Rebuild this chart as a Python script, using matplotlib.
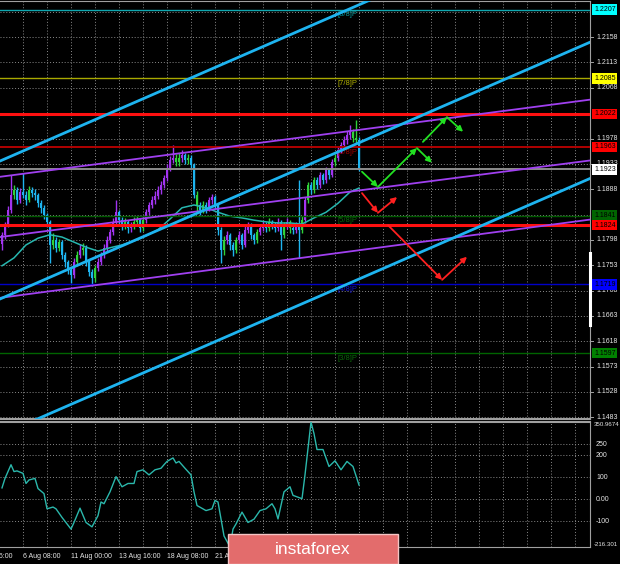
import matplotlib
matplotlib.use("Agg")
import matplotlib.pyplot as plt
from matplotlib.transforms import blended_transform_factory

# EURUSD H4 candles (index 0 = left edge, 119 = last bar)
first_open = 1.1790
closes = [
    1.1807, 1.1824, 1.1851, 1.1878, 1.1887, 1.1869, 1.1883, 1.1878, 1.1869, 1.1887,
    1.1881, 1.1878, 1.1863, 1.1855, 1.1842, 1.1830, 1.1789, 1.1798, 1.1784, 1.1794,
    1.1771, 1.1759, 1.1744, 1.1736, 1.1759, 1.1771, 1.1780, 1.1784, 1.1759, 1.1741,
    1.1730, 1.1748, 1.1759, 1.1771, 1.1784, 1.1798, 1.1812, 1.1830, 1.1847, 1.1833,
    1.1824, 1.1830, 1.1819, 1.1824, 1.1830, 1.1833, 1.1819, 1.1833, 1.1847, 1.1860,
    1.1869, 1.1876, 1.1887, 1.1895, 1.1908, 1.1926, 1.1940, 1.1943, 1.1936, 1.1943,
    1.1949, 1.1940, 1.1943, 1.1931, 1.1878, 1.1860, 1.1851, 1.1860, 1.1855, 1.1869,
    1.1874, 1.1860, 1.1816, 1.1780, 1.1798, 1.1807, 1.1789, 1.1780, 1.1798, 1.1807,
    1.1789, 1.1816, 1.1824, 1.1807, 1.1798, 1.1812, 1.1819, 1.1824, 1.1819, 1.1830,
    1.1824, 1.1819, 1.1830, 1.1807, 1.1824, 1.1830, 1.1819, 1.1816, 1.1824, 1.1816,
    1.1833, 1.1869, 1.1895, 1.1887, 1.1904, 1.1895, 1.1913, 1.1904, 1.1922, 1.1913,
    1.1936, 1.1943, 1.1958, 1.1966, 1.1975, 1.1984, 1.1990, 1.1979, 1.1975, 1.1922,
]
highs = [
    1.1812, 1.1830, 1.1858, 1.1913, 1.1895, 1.1892, 1.1890, 1.1917, 1.1885, 1.1893,
    1.1892, 1.1888, 1.1882, 1.1868, 1.1860, 1.1846, 1.1833, 1.1810, 1.1803, 1.1800,
    1.1797, 1.1776, 1.1763, 1.1750, 1.1765, 1.1778, 1.1790, 1.1793, 1.1788, 1.1763,
    1.1746, 1.1753, 1.1765, 1.1777, 1.1790, 1.1804, 1.1818, 1.1836, 1.1869, 1.1851,
    1.1838, 1.1836, 1.1834, 1.1830, 1.1838, 1.1840, 1.1837, 1.1839, 1.1853, 1.1866,
    1.1876, 1.1884, 1.1893, 1.1902, 1.1914, 1.1932, 1.1947, 1.1966, 1.1950, 1.1952,
    1.1957, 1.1953, 1.1950, 1.1948, 1.1934, 1.1884, 1.1866, 1.1867, 1.1865, 1.1874,
    1.1880, 1.1878, 1.1864, 1.1820, 1.1805, 1.1814, 1.1811, 1.1795, 1.1803, 1.1813,
    1.1811, 1.1822, 1.1830, 1.1828, 1.1811, 1.1818, 1.1826, 1.1831, 1.1830, 1.1837,
    1.1834, 1.1829, 1.1836, 1.1833, 1.1829, 1.1836, 1.1834, 1.1825, 1.1830, 1.1904,
    1.1840, 1.1874, 1.1900, 1.1901, 1.1910, 1.1909, 1.1918, 1.1917, 1.1928, 1.1926,
    1.1941, 1.1950, 1.1963, 1.1972, 1.1982, 1.1992, 1.2002, 1.1995, 1.2011, 1.1980,
]
lows = [
    1.1780, 1.1800, 1.1820, 1.1846, 1.1870, 1.1862, 1.1864, 1.1872, 1.1860, 1.1865,
    1.1874, 1.1868, 1.1857, 1.1846, 1.1835, 1.1820, 1.1757, 1.1782, 1.1776, 1.1778,
    1.1764, 1.1750, 1.1738, 1.1721, 1.1730, 1.1752, 1.1765, 1.1772, 1.1752, 1.1733,
    1.1716, 1.1724, 1.1742, 1.1753, 1.1766, 1.1778, 1.1792, 1.1806, 1.1824, 1.1826,
    1.1815, 1.1817, 1.1810, 1.1812, 1.1818, 1.1822, 1.1812, 1.1814, 1.1828, 1.1842,
    1.1854, 1.1862, 1.1870, 1.1880, 1.1890, 1.1903, 1.1920, 1.1934, 1.1929, 1.1930,
    1.1936, 1.1933, 1.1932, 1.1924, 1.1872, 1.1850, 1.1842, 1.1845, 1.1846, 1.1850,
    1.1862, 1.1853, 1.1806, 1.1757, 1.1772, 1.1790, 1.1780, 1.1770, 1.1775, 1.1792,
    1.1782, 1.1785, 1.1810, 1.1800, 1.1790, 1.1793, 1.1806, 1.1813, 1.1812, 1.1814,
    1.1818, 1.1812, 1.1814, 1.1780, 1.1801, 1.1818, 1.1811, 1.1808, 1.1810, 1.1766,
    1.1810, 1.1828, 1.1863, 1.1880, 1.1882, 1.1888, 1.1890, 1.1897, 1.1899, 1.1906,
    1.1909, 1.1930, 1.1938, 1.1952, 1.1960, 1.1968, 1.1978, 1.1972, 1.1968, 1.1920,
]
# p = violet, b = blue, g = green bar colour
bar_codes = ("ppppgbpbbg" "bbbbbbbgbg" "bbbbpgpgbb" "bgpppppppb" "bgbpggbgpp"
             "ppppppppgg" "pbgbbgbgbp" "pbbbgpbbgp" "bppbbgppbg" "bbpbgpgbpb"
             "gpgbgbpbpb" "pgpppppggb")
opens = [first_open] + closes[:-1]

# moving average (teal)
ma_idx = [0, 4, 8, 12, 16, 20, 24, 28, 32, 36, 40, 44, 48, 52, 56, 60,
          64, 68, 72, 76, 80, 84, 88, 92, 96, 100, 104, 108, 112, 116, 119]
ma_vals = [1.1752, 1.1766, 1.1789, 1.1801, 1.1807, 1.1803, 1.1794, 1.1785,
           1.1778, 1.1784, 1.1789, 1.1796, 1.1805, 1.1816, 1.1835, 1.1855,
           1.1860, 1.1855, 1.1847, 1.1840, 1.1837, 1.1833, 1.1830, 1.1828,
           1.1828, 1.1826, 1.1837, 1.1847, 1.1863, 1.1883, 1.1890]

# CCI sub-window
cci_idx = [0, 1, 3, 4, 5, 7, 8, 9, 11, 12, 14, 15, 17, 18, 20, 23, 24, 26, 28, 30,
           32, 33, 34, 36, 38, 40, 42, 44, 45, 47, 49, 51, 53, 54, 55, 57, 58, 59,
           61, 63, 64, 65, 68, 70, 71, 72, 74, 76, 77, 78, 80, 82, 84, 86, 88, 90,
           91, 92, 94, 96, 97, 100, 101, 103, 104, 105, 107, 109, 111, 113, 115,
           117, 119]
cci_vals = [52, 95, 157, 126, 129, 118, 72, 88, 95, 49, 26, -43, -35, -43, -82,
            -135, -105, -40, -105, -125, -74, -12, -20, 34, 103, 57, 72, 72, 126,
            134, 111, 134, 141, 157, 172, 188, 165, 172, 141, 111, 34, -28, -51,
            -43, -5, -12, -166, -216, -135, -112, -58, -105, -90, -51, -43, -20,
            -43, -89, 34, 57, 18, 3, 111, 351, 298, 226, 226, 149, 175, 134, 172,
            149, 65]
cci_min, cci_max = -216.301, 350.9674
cci_ticks = [250, 200, 100, 0, -100]
cci_tick_labels = ["250", "200", "100", "0.00", "-100"]

# horizontal levels
levels = [1.2207, 1.2085, 1.2022, 1.1963, 1.1923, 1.1841, 1.1824, 1.1719, 1.1597]
level_colors = ["#10a8b0", "#a8a800", "#ff1010", "#b00000", "#8c8c8c",
                "#005a00", "#ff1010", "#0000c8", "#006400"]
level_widths = [1.0, 1.0, 2.2, 1.4, 1.4, 1.0, 2.2, 1.0, 1.0]
box_colors = ["#00ffff", "#ffff00", "#ff0000", "#ff0000", "#ffffff",
              "#006400", "#ff0000", "#0000ff", "#008000"]

murrey_names = ["[8/8]P", "[7/8]P", "[6/8]P", "[5/8]P", "[4/8]P", "[3/8]P"]
murrey_prices = [1.2207, 1.2085, 1.1963, 1.1841, 1.1719, 1.1597]
murrey_colors = ["#0a9a9a", "#b0b000", "#a00000", "#0a6a0a", "#1010d0", "#0a6a0a"]

# trend channel lines: (idx0, price0, idx1, price1)
cyan_lines = [(-0.67, 1.1938, 196, 1.2394),
              (-0.67, 1.1693, 196, 1.2149),
              (-0.67, 1.1451, 196, 1.1907)]
purple_lines = [(-0.67, 1.1910, 196, 1.2047),
                (-0.67, 1.1803, 196, 1.1939),
                (-0.67, 1.1695, 196, 1.1834)]

# forecast arrows: (idx0, price0, idx1, price1)
green_arrows = [(120, 1.1919, 125.3, 1.1892),
                (125.3, 1.1892, 138.3, 1.1961),
                (138.3, 1.1961, 143.3, 1.1935),
                (140.3, 1.1972, 148.3, 1.2016),
                (148.3, 1.2016, 153.7, 1.1990)]
red_arrows = [(120, 1.1881, 125.3, 1.1846),
              (125.3, 1.1846, 131.7, 1.1874),
              (128.7, 1.1824, 146.7, 1.1727),
              (146.7, 1.1727, 155, 1.1768)]

price_ticks = [1.2158, 1.2113, 1.2068, 1.1978, 1.1933, 1.1888, 1.1798,
               1.1753, 1.1708, 1.1663, 1.1618, 1.1573, 1.1528, 1.1483]
grid_prices = [1.1483, 1.1528, 1.1573, 1.1618, 1.1663, 1.1708, 1.1753, 1.1798,
               1.1843, 1.1888, 1.1933, 1.1978, 1.2023, 1.2068, 1.2113, 1.2158, 1.2203]
date_idx = [-9, 7, 23, 39, 55, 71]
date_labels = ["4 Aug 16:00", "6 Aug 08:00", "11 Aug 00:00", "13 Aug 16:00",
               "18 Aug 08:00", "21 Aug 00:00"]
grid_idx = list(range(7, 196, 8))

BAR = {"p": "#a234f0", "b": "#1eb4f0", "g": "#2fd33a"}
FONT = ["Liberation Sans", "DejaVu Sans"]
TXT = "#e6e6e6"
GRID = "#8a8a8a"
SPINE = "#a0a0a0"

fig = plt.figure(figsize=(6.2, 5.64), dpi=100, facecolor="black")
ax = fig.add_axes([0, 1 - 419 / 564, 590 / 620, 418 / 564], facecolor="black")
ax2 = fig.add_axes([0, 1 - 547 / 564, 590 / 620, 125 / 564], facecolor="black")

xlim = (-0.667, 196)
ax.set_xlim(*xlim)
ax.set_ylim(1.2224 - 0.0001776 * 419, 1.2224 - 0.0001776 * 1)
ax2.set_xlim(*xlim)
ax2.set_ylim(cci_min, cci_max)

for a in (ax, ax2):
    a.spines["left"].set_visible(False)
    for side in ("top", "right", "bottom"):
        a.spines[side].set_color(SPINE)
    a.set_xticks([])
    a.set_yticks([])
    for gx in grid_idx:
        a.axvline(gx, color=GRID, lw=0.7, ls=(0, (1, 2)), zorder=1)
ax.spines["bottom"].set_linewidth(1.5)
ax2.spines["top"].set_linewidth(1.5)

for gp in grid_prices:
    ax.axhline(gp, color=GRID, lw=0.7, ls=(0, (1, 2)), zorder=1)
for cv in cci_ticks:
    ax2.axhline(cv, color=GRID, lw=0.7, ls=(0, (1, 2)), zorder=1)

# candles
for i in range(len(closes)):
    col = BAR[bar_codes[i]]
    o, c = opens[i], closes[i]
    ax.vlines(i, lows[i], highs[i], color=col, lw=1.0, zorder=3)
    h = max(abs(c - o), 0.0002)
    ax.bar(i, h, bottom=min(o, c), width=0.8, color=col, lw=0, zorder=3)

ax.plot(ma_idx, ma_vals, color="#27b8b0", lw=1.1, zorder=4)

# levels
for p, col, lw in zip(levels, level_colors, level_widths):
    ax.axhline(p, color=col, lw=lw, zorder=5)

for name, p, col in zip(murrey_names, murrey_prices, murrey_colors):
    ax.text(111.7, p - 0.0003, name, color=col, fontsize=5.5, family=FONT,
            ha="left", va="top", zorder=6)

for x0, y0, x1, y1 in purple_lines:
    ax.plot([x0, x1], [y0, y1], color="#a040f0", lw=1.3, zorder=5)
for x0, y0, x1, y1 in cyan_lines:
    ax.plot([x0, x1], [y0, y1], color="#1eb4f0", lw=2.0, zorder=6)

for arrows, col in ((green_arrows, "#22e022"), (red_arrows, "#ff2020")):
    for x0, y0, x1, y1 in arrows:
        ax.annotate("", xy=(x1, y1), xytext=(x0, y0), zorder=7,
                    arrowprops=dict(arrowstyle="-|>", color=col, lw=1.3,
                                    mutation_scale=8, shrinkA=0, shrinkB=0))

# right price scale
tr = blended_transform_factory(ax.transAxes, ax.transData)
for p in price_ticks:
    ax.plot([1.0, 1.0 + 3 / 590], [p, p], color=SPINE, lw=0.7,
            transform=tr, clip_on=False)
    ax.text(1.0 + 6 / 590, p, f"{p:.4f}", color=TXT, fontsize=5, family=FONT,
            ha="left", va="center", transform=tr, clip_on=False)
for p, col in zip(levels, box_colors):
    ax.text(1.0 + 4 / 590, p, f"{p:.4f}", color="black", fontsize=5, family=FONT,
            ha="left", va="center", transform=tr, clip_on=False, zorder=10,
            bbox=dict(boxstyle="square,pad=0.25", fc=col, ec="none"))
ax.plot([1.0, 1.0], [0.225, 0.397], color="white", lw=2.2,
        transform=ax.transAxes, clip_on=False, zorder=10)

# CCI
ax2.plot(cci_idx, cci_vals, color="#2bb8ac", lw=1.0, zorder=4)
tr2 = blended_transform_factory(ax2.transAxes, ax2.transData)
for v, lab in zip(cci_ticks, cci_tick_labels):
    ax2.text(1.0 + 6 / 590, v, lab, color=TXT, fontsize=5, family=FONT,
             ha="left", va="center", transform=tr2, clip_on=False)
ax2.text(1.0 + 4 / 590, cci_max, f"{cci_max}", color=TXT, fontsize=4.4, family=FONT,
         ha="left", va="top", transform=tr2, clip_on=False)
ax2.text(1.0 + 4 / 590, cci_min, f"{cci_min}", color=TXT, fontsize=4.4, family=FONT,
         ha="left", va="bottom", transform=tr2, clip_on=False)

# dates
trx = blended_transform_factory(ax2.transData, fig.transFigure)
for gx, lab in zip(date_idx, date_labels):
    ax2.text(gx, 1 - 557 / 564, lab, color=TXT, fontsize=5, family=FONT,
             ha="left", va="center", transform=trx, clip_on=False)

# instaforex badge
fig.patches.append(plt.Rectangle((228 / 620, 0), 170 / 620, 30 / 564,
                                 transform=fig.transFigure, fc="#e36c6c",
                                 ec="#f4c4c4", lw=1.0, zorder=20))
fig.text(313 / 620, 1 - 550 / 564, "instaforex", color="white", fontsize=12.5,
         family=FONT, ha="center", va="center", zorder=21)

fig.savefig("out.png", dpi=100, facecolor="black")
